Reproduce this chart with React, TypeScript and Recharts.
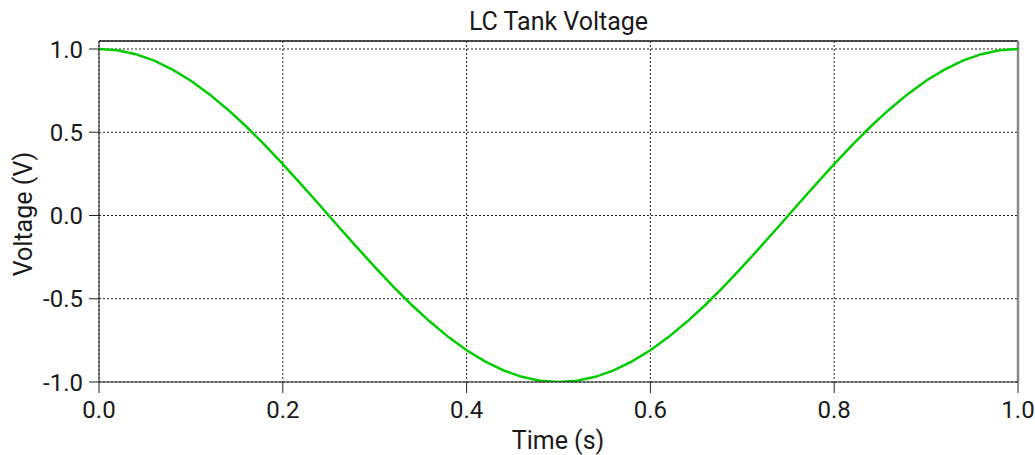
import { CartesianGrid, Line, LineChart, ReferenceLine, XAxis, YAxis } from 'recharts'

const times = [
  0, 0.02, 0.04, 0.06, 0.08, 0.1, 0.12, 0.14, 0.16, 0.18, 0.2, 0.22, 0.24, 0.26, 0.28, 0.3, 0.32, 0.34, 0.36,
  0.38, 0.4, 0.42, 0.44, 0.46, 0.48, 0.5, 0.52, 0.54, 0.56, 0.58, 0.6, 0.62, 0.64, 0.66, 0.68, 0.7, 0.72, 0.74,
  0.76, 0.78, 0.8, 0.82, 0.84, 0.86, 0.88, 0.9, 0.92, 0.94, 0.96, 0.98, 1.0,
]
const voltage = [
  1.0, 0.992, 0.969, 0.93, 0.876, 0.809, 0.729, 0.637, 0.536, 0.426, 0.309, 0.187, 0.063, -0.063, -0.187, -0.309,
  -0.426, -0.536, -0.637, -0.729, -0.809, -0.876, -0.93, -0.969, -0.992, -1.0, -0.992, -0.969, -0.93, -0.876,
  -0.809, -0.729, -0.637, -0.536, -0.426, -0.309, -0.187, -0.063, 0.063, 0.187, 0.309, 0.426, 0.536, 0.637,
  0.729, 0.809, 0.876, 0.93, 0.969, 0.992, 1.0,
]
const xTicks = [0, 0.2, 0.4, 0.6, 0.8, 1.0]
const yTicks = [-1.0, -0.5, 0, 0.5, 1.0]

const data = times.map((t, i) => ({ t, v: voltage[i] }))

const font = 'Roboto, sans-serif'
const yTop = 1.048

export default function App() {
  const tickStyle = { fill: '#1a1a1a', fontSize: 24, fontFamily: font }
  return (
    <div style={{ position: 'absolute', left: 0, top: 0, width: 1035, height: 455, background: '#fff', fontFamily: font }}>
      <div
        style={{
          position: 'absolute',
          top: 7,
          left: 99,
          width: 919,
          textAlign: 'center',
          fontSize: 25,
          lineHeight: 'normal',
          color: '#1a1a1a',
        }}
      >
        LC Tank Voltage
      </div>
      <LineChart width={1035} height={455} data={data} margin={{ top: 41, right: 17, left: 0, bottom: 0 }}>
        <CartesianGrid stroke="#222" strokeDasharray="2 2" horizontal vertical />
        <XAxis
          dataKey="t"
          type="number"
          domain={[0, 1]}
          ticks={xTicks}
          tickFormatter={(v: number) => v.toFixed(1)}
          height={73}
          tickSize={11}
          tickMargin={8}
          tick={tickStyle}
          stroke="#222"
          label={{
            content: () => (
              <text x={558} y={449} textAnchor="middle" fontSize={25} fontFamily={font} fill="#1a1a1a">
                Time (s)
              </text>
            ),
          }}
        />
        <YAxis
          type="number"
          domain={[-1, yTop]}
          ticks={yTicks}
          tickFormatter={(v: number) => v.toFixed(1)}
          width={99}
          tickSize={10}
          tickMargin={6}
          tick={tickStyle}
          stroke="#222"
          allowDataOverflow
          label={{
            content: () => (
              <text
                x={32}
                y={214}
                textAnchor="middle"
                fontSize={25}
                fontFamily={font}
                fill="#1a1a1a"
                transform="rotate(-90, 32, 214)"
              >
                Voltage (V)
              </text>
            ),
          }}
        />
        <ReferenceLine y={yTop} stroke="#222" strokeWidth={1.5} />
        <ReferenceLine x={1} stroke="#888" strokeWidth={2.5} />
        <Line
          type="linear"
          dataKey="v"
          stroke="#00cc00"
          strokeWidth={2.5}
          dot={false}
          isAnimationActive={false}
        />
      </LineChart>
    </div>
  )
}
